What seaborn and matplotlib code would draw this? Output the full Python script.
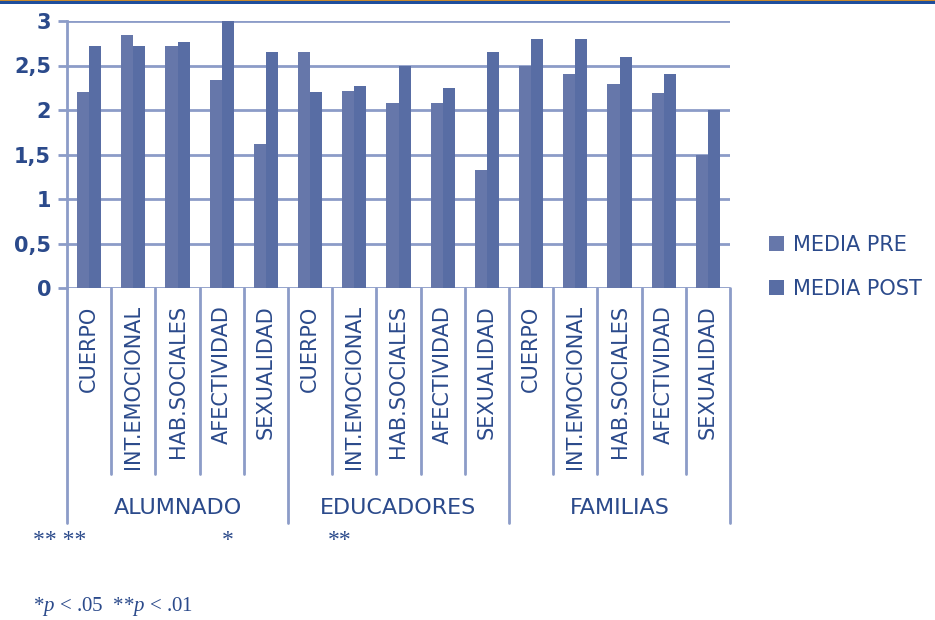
import seaborn as sns
import numpy as np
import pandas as pd
from matplotlib import pyplot as plt
from matplotlib.lines import Line2D
from matplotlib.patches import Rectangle
import matplotlib.transforms as mtransforms

# datos
grupos = ['ALUMNADO', 'EDUCADORES', 'FAMILIAS']
areas = ['CUERPO', 'INT.EMOCIONAL', 'HAB.SOCIALES', 'AFECTIVIDAD', 'SEXUALIDAD']
media_pre = [2.2, 2.84, 2.72, 2.34, 1.62,
             2.65, 2.21, 2.08, 2.08, 1.33,
             2.5, 2.4, 2.29, 2.19, 1.5]
media_post = [2.72, 2.72, 2.76, 3.0, 2.65,
              2.2, 2.27, 2.5, 2.25, 2.65,
              2.8, 2.8, 2.59, 2.4, 2.0]
series = ['MEDIA PRE', 'MEDIA POST']
yticks = [0, 0.5, 1, 1.5, 2, 2.5, 3]
ytick_labels = ['0', '0,5', '1', '1,5', '2', '2,5', '3']
marcas_signif = ['** **', '*', '**']
nota = r'*$\it{p}$ < .05  **$\it{p}$ < .01'

sns.set_theme(style='white')
plt.rcParams['font.family'] = ['DejaVu Sans']
plt.rcParams['mathtext.fontset'] = 'custom'
plt.rcParams['mathtext.it'] = 'Liberation Serif:italic'
plt.rcParams['mathtext.rm'] = 'Liberation Serif'

azul_txt = '#2b4a8b'
grid_col = '#8c9cc8'
col_pre = '#6677aa'
col_post = '#586da4'

claves = [g + '|' + a for g in grupos for a in areas]
df = pd.DataFrame({
    'clave': claves * 2,
    'valor': media_pre + media_post,
    'serie': [series[0]] * len(claves) + [series[1]] * len(claves),
})

fig = plt.figure(figsize=(9.35, 6.2), dpi=100)
ax = fig.add_axes([67 / 935, 1 - 288 / 620, 663 / 935, 267 / 620])

sns.barplot(data=df, x='clave', y='valor', hue='serie', order=claves,
            palette=[col_pre, col_post], saturation=1, width=0.55,
            linewidth=0, ax=ax)

ax.set_xlim(-0.5, len(claves) - 0.5)
ax.set_ylim(0, 3)
ax.set_axisbelow(True)
ax.set_yticks(yticks)
ax.set_yticklabels(ytick_labels, color=azul_txt, fontsize=15, fontweight='bold')
ax.yaxis.grid(True, color=grid_col, linewidth=2)
ax.tick_params(axis='y', length=6.5, width=2, color=grid_col, pad=5, left=True)
ax.set_xticks([])
ax.set_xlabel('')
ax.set_ylabel('')
for s in ['top', 'right', 'bottom']:
    ax.spines[s].set_visible(False)
ax.spines['left'].set_color(grid_col)
ax.spines['left'].set_linewidth(2)

# etiquetas de categoria y separadores
trans = mtransforms.blended_transform_factory(ax.transData, ax.transAxes)
for i, c in enumerate(claves):
    ax.text(i, -0.065, c.split('|')[1], rotation=90, ha='center', va='top',
            color=azul_txt, fontsize=15, transform=trans)
for i in range(len(claves) + 1):
    largo = (i % len(areas) == 0)
    y_fin = -0.88 if largo else -0.695
    ax.add_line(Line2D([i - 0.5, i - 0.5], [0, y_fin], color=grid_col,
                       linewidth=2, transform=trans, clip_on=False))
for j, g in enumerate(grupos):
    xc = j * len(areas) + (len(areas) - 1) / 2
    ax.text(xc, -0.825, g, ha='center', va='center', color=azul_txt,
            fontsize=16, transform=trans)

ax.legend(loc='center left', bbox_to_anchor=(1.03, 0.08), frameon=False,
          handlelength=0.75, handleheight=0.75, handletextpad=0.4,
          labelspacing=1.15, fontsize=15, labelcolor=azul_txt)

# asteriscos de significacion y nota
for xpix, t in zip([33, 222, 328], marcas_signif):
    fig.text(xpix / 935, 1 - 540 / 620, t, ha='left', va='center',
             color=azul_txt, fontsize=17, family='Liberation Serif')
fig.text(33 / 935, 1 - 607 / 620, nota, ha='left', va='center',
         color=azul_txt, fontsize=15, family='Liberation Serif')

# borde superior
fig.add_artist(Rectangle((0, 1 - 4 / 620), 1, 3 / 620, transform=fig.transFigure,
                         color='#1f4e9c', linewidth=0))
fig.add_artist(Rectangle((0, 1 - 1 / 620), 1, 1 / 620, transform=fig.transFigure,
                         color='#c98a2e', linewidth=0))

fig.savefig('out.png', dpi=100)
